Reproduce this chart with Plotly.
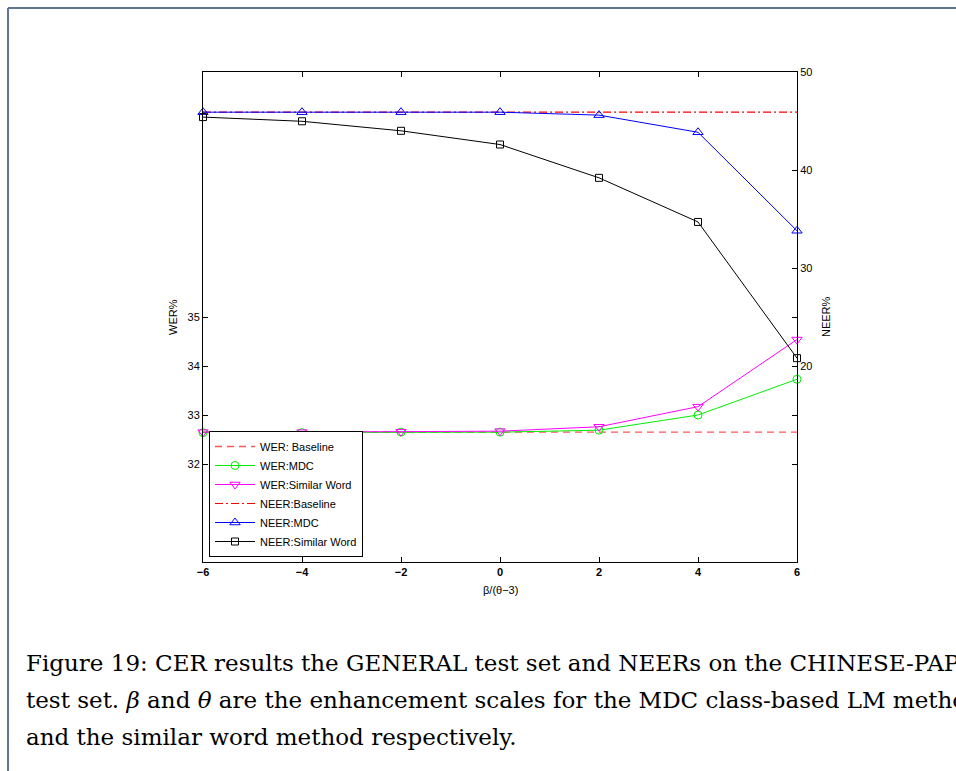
import plotly.graph_objects as go

# ---------------- data ----------------
x_vals = [-6, -4, -2, 0, 2, 4, 6]
wer_baseline = [32.65, 32.65, 32.65, 32.65, 32.65, 32.65, 32.65]
wer_mdc = [32.64, 32.64, 32.65, 32.65, 32.69, 33.00, 33.73]
wer_similar = [32.65, 32.65, 32.66, 32.67, 32.76, 33.17, 34.54]
neer_baseline = [45.9, 45.9, 45.9, 45.9, 45.9, 45.9, 45.9]
neer_mdc = [45.9, 45.9, 45.9, 45.9, 45.6, 43.85, 33.8]
neer_similar = [45.4, 44.97, 44.0, 42.6, 39.2, 34.7, 20.8]

x_ticks = [-6, -4, -2, 0, 2, 4, 6]
wer_ticks = [32, 33, 34, 35]
neer_ticks = [20, 30, 40, 50]

caption_lines = [
    "Figure 19: CER results the GENERAL test set and NEERs on the CHINESE-PAPER",
    "test set. <i>β</i> and <i>θ</i> are the enhancement scales for the MDC class-based LM method",
    "and the similar word method respectively.",
]

# ---------------- layout geometry ----------------
W, H = 956, 771
L, R, T, B = 203, 797, 72, 562
PW, PH = R - L, B - T


def px(x):
    return (x - L) / PW


def py(y):
    return (B - y) / PH


SANS = "Liberation Sans, Arial, sans-serif"
SERIF = "DejaVu Serif, serif"

fig = go.Figure()

fig.add_trace(go.Scatter(x=x_vals, y=wer_baseline, name="WER: Baseline", mode="lines",
                         line=dict(color="#ff5555", width=1.3, dash="7px,5px"), yaxis="y"))
fig.add_trace(go.Scatter(x=x_vals, y=wer_mdc, name="WER:MDC", mode="lines+markers",
                         line=dict(color="#00ee00", width=1), cliponaxis=False,
                         marker=dict(symbol="circle-open", size=8, color="#00ee00", line=dict(width=1)),
                         yaxis="y"))
fig.add_trace(go.Scatter(x=x_vals, y=wer_similar, name="WER:Similar Word", mode="lines+markers",
                         line=dict(color="#ff00ff", width=1), cliponaxis=False,
                         marker=dict(symbol="triangle-down-open", size=9, color="#ff00ff", line=dict(width=1)),
                         yaxis="y"))
fig.add_trace(go.Scatter(x=x_vals, y=neer_baseline, name="NEER:Baseline", mode="lines",
                         line=dict(color="#ff0000", width=1.2, dash="8px,3px,2px,3px"), yaxis="y2"))
fig.add_trace(go.Scatter(x=x_vals, y=neer_mdc, name="NEER:MDC", mode="lines+markers",
                         line=dict(color="#0000ff", width=1), cliponaxis=False,
                         marker=dict(symbol="triangle-up-open", size=9, color="#0000ff", line=dict(width=1)),
                         yaxis="y2"))
fig.add_trace(go.Scatter(x=x_vals, y=neer_similar, name="NEER:Similar Word", mode="lines+markers",
                         line=dict(color="#000000", width=1), cliponaxis=False,
                         marker=dict(symbol="square-open", size=7, color="#000000", line=dict(width=1)),
                         yaxis="y2"))

shapes = [
    dict(type="line", xref="paper", yref="paper", x0=px(8), x1=px(960), y0=py(8), y1=py(8),
         line=dict(color="#5f7592", width=2)),
    dict(type="line", xref="paper", yref="paper", x0=px(8), x1=px(8), y0=py(8), y1=py(780),
         line=dict(color="#5f7592", width=2)),
]

annotations = [
    dict(text="WER%", xref="paper", yref="paper", x=px(173), y=py(317), textangle=-90,
         showarrow=False, font=dict(family=SANS, size=11, color="black"), xanchor="center", yanchor="middle"),
    dict(text="NEER%", xref="paper", yref="paper", x=px(826), y=py(317), textangle=-90,
         showarrow=False, font=dict(family=SANS, size=11, color="black"), xanchor="center", yanchor="middle"),
    dict(text="β/(θ−3)", xref="paper", yref="paper", x=px(500), y=py(590),
         showarrow=False, font=dict(family=SANS, size=11, color="black"), xanchor="center", yanchor="middle"),
]
for i, line in enumerate(caption_lines):
    annotations.append(dict(text=line, xref="paper", yref="paper", x=px(24), y=py(663 + 37 * i),
                            showarrow=False, xanchor="left", yanchor="middle", align="left",
                            font=dict(family=SERIF, size=23, color="black")))

fig.update_layout(
    width=W, height=H,
    margin=dict(l=L, r=W - R, t=T, b=H - B),
    paper_bgcolor="white", plot_bgcolor="white",
    showlegend=True,
    legend=dict(x=px(209), y=py(557), xanchor="left", yanchor="bottom",
                bgcolor="white", bordercolor="black", borderwidth=1,
                font=dict(family=SANS, size=11, color="black"), tracegroupgap=0,
                itemwidth=40),
    xaxis=dict(range=[-6, 6], tickvals=x_ticks, ticks="inside", ticklen=5, tickcolor="black",
               showline=True, linecolor="black", linewidth=1, mirror="ticks", showgrid=False,
               zeroline=False, tickfont=dict(family=SANS, size=11, color="black", weight="bold")),
    yaxis=dict(range=[30, 40], tickvals=wer_ticks, ticks="inside", ticklen=5, tickcolor="black",
               showline=True, linecolor="black", linewidth=1, mirror="ticks", showgrid=False,
               zeroline=False, tickfont=dict(family=SANS, size=11, color="black")),
    yaxis2=dict(range=[0, 50], tickvals=neer_ticks, ticks="inside", ticklen=5, tickcolor="black",
                overlaying="y", side="right", showline=True, linecolor="black", linewidth=1,
                showgrid=False, zeroline=False, tickfont=dict(family=SANS, size=11, color="black")),
    shapes=shapes,
    annotations=annotations,
)

fig.write_html("out.html")
